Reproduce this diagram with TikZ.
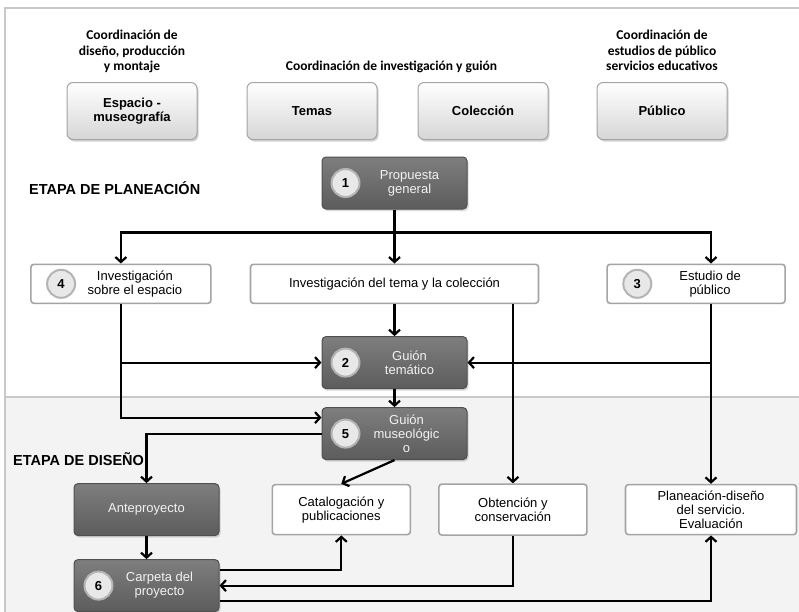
\documentclass[tikz,border=0pt]{standalone}
\usepackage{fontspec}
\setmainfont{Liberation Sans}
\newfontfamily\headfont{Carlito}
\usepackage{tikz}
\usetikzlibrary{positioning,arrows.meta,calc,shadows}
\definecolor{ink}     {HTML}{000000}
\definecolor{frame}   {HTML}{C8C8C8}
\definecolor{band}    {HTML}{F3F3F3}
\definecolor{rim}     {HTML}{A4A4A4}
\definecolor{lightbot}{HTML}{D6D6D6}
\definecolor{darktop} {HTML}{7E7E7E}
\definecolor{darkbot} {HTML}{5C5C5C}
\definecolor{darkrim} {HTML}{505050}
\definecolor{paper}   {HTML}{F2F2F2}
\definecolor{numfill} {HTML}{E8E8E8}
\definecolor{numrim}  {HTML}{B4B4B4}

\begin{document}
\begin{tikzpicture}[
  x=1pt, y=1pt,
  font=\fontsize{13}{14}\selectfont,
  tbox/.style={draw=rim, line width=1pt, rounded corners=6pt, top color=white, bottom color=lightbot,
               minimum width=130pt, minimum height=57pt, align=center,
               font=\fontsize{13}{14}\selectfont\bfseries,
               drop shadow={shadow xshift=1.5pt, shadow yshift=-2pt, opacity=.35}},
  dbox/.style={draw=darkrim, line width=1pt, rounded corners=4pt, top color=darktop, bottom color=darkbot,
               minimum width=145pt, minimum height=52pt, align=center, text=paper,
               drop shadow={shadow xshift=1.5pt, shadow yshift=-2pt, opacity=.3}},
  wbox/.style={draw=rim, line width=1.6pt, rounded corners=3pt, fill=white,
               minimum height=39pt, align=center},
  dtxt/.style={text=paper, align=center, inner sep=0pt},
  wtxt/.style={align=center, inner sep=0pt},
  num/.style={circle, draw=numrim, line width=2pt, fill=numfill, minimum size=28pt, inner sep=0pt,
              font=\fontsize{13}{14}\selectfont\bfseries},
  headlbl/.style={align=center, inner sep=1pt, font=\headfont\fontsize{13.5}{15.5}\selectfont\bfseries},
  stage/.style={anchor=west, inner sep=0pt, font=\fontsize{14.5}{16}\selectfont\bfseries},
  flow/.style={draw=ink, line width=2.2pt, -{Straight Barb[length=5pt,width=11pt]}}
]
\useasboundingbox (0,0) rectangle (799,-611);
% two stages
\fill[white] (5,-8) rectangle (810,-397);
\fill[band] (5,-397) rectangle (810,-620);
\draw[frame, line width=1.5pt] (5,-620) |- (810,-8);
\draw[frame, line width=2pt] (5,-397) -- (810,-397);

% coordinations
\node[tbox] (esp) at (132,-111) {Espacio -\\museografía};
\node[tbox, right=49pt of esp] (tem) {Temas};
\node[tbox, right=40pt of tem] (col) {Colección};
\node[tbox, right=48pt of col] (pub) {Público};
\coordinate (temcol) at ($(tem.north)!0.5!(col.north)+(-6,0)$);
\node[headlbl, above=8pt of esp] (hd1) {Coordinación de\\diseño, producción\\y montaje};
\node[headlbl, above=8pt of temcol] (hd2) {Coordinación de investigación y guión};
\node[headlbl, above=10pt of pub] (hd3) {Coordinación de\\estudios de público\\servicios educativos};

\node[stage] (plan) at (29,-188) {ETAPA DE PLANEACIÓN};
\node[stage] (dis) at (13,-459) {ETAPA DE DISEÑO};

% planning
\node[dbox] (pro) at (394.5,-183) {};
\node[num] (pro-n) at ([xshift=24pt]pro.west) {1};
\node[dtxt] (pro-t) at ([xshift=15pt]pro.center) {Propuesta\\general};

\node[wbox, minimum width=288pt, below=54pt of pro] (inv) {Investigación del tema y la colección};
\node[wbox, minimum width=180pt, left=38pt of inv] (ies) {};
\node[num] (ies-n) at ([xshift=31pt]ies.west) {4};
\node[wtxt] (ies-t) at ([xshift=14pt]ies.center) {Investigación\\sobre el espacio};
\node[wbox, minimum width=178pt, right=67pt of inv] (epu) {};
\node[num] (epu-n) at ([xshift=31pt]epu.west) {3};
\node[wtxt] (epu-t) at ([xshift=14pt]epu.center) {Estudio de\\público};

\node[dbox, below=32pt of inv] (gt) {};
\node[num] (gt-n) at ([xshift=24pt]gt.west) {2};
\node[dtxt] (gt-t) at ([xshift=15pt]gt.center) {Guión\\temático};
\node[dbox, below=18pt of gt] (gm) {};
\node[num] (gm-n) at ([xshift=24pt]gm.west) {5};
\node[dtxt] (gm-t) at ([xshift=12pt]gm.center) {Guión\\museológic\\o};

% design
\node[dbox, below left=23pt and 102pt of gm] (ante) {Anteproyecto};
\node[dbox, below=23pt of ante] (carp) {};
\node[num] (carp-n) at ([xshift=25pt]carp.west) {6};
\node[dtxt] (carp-t) at ([xshift=13pt]carp.center) {Carpeta del\\proyecto};
\node[wbox, minimum width=138pt, minimum height=50pt, right=52pt of ante] (cat) {Catalogación y\\publicaciones};
\node[wbox, minimum width=148pt, minimum height=51pt, right=27pt of cat] (obt) {Obtención y\\conservación};
\node[wbox, minimum width=171pt, minimum height=50pt, right=37pt of obt] (pla) {Planeación-diseño\\del servicio.\\Evaluación};

\coordinate[below=23pt of pro.south] (hub);
\draw[flow] (pro.south) -- (inv.north);
\draw[flow] (hub) -| (ies.north);
\draw[flow] (hub) -| (pla.north |- epu.north);
\draw[flow] (inv.south) -- (gt.north);
\draw[flow] (gt.south) -- (gm.north);
\draw[flow] (ies.south) |- (gt.west);
\draw[flow] (ies.south) |- ([yshift=16pt]gm.west);
\draw[flow] (epu.south -| pla.north) -- (pla.north);
\draw[flow] (gt.east -| pla.north) -- (gt.east);
\draw[flow] (inv.south -| obt.north) -- (obt.north);
\draw[flow] (gm.west) -| (ante.north);
\draw[flow] (gm.south) -- (cat.north);
\draw[flow] (ante.south) -- (carp.north);
\draw[flow] ([yshift=16pt]carp.east) -| (cat.south);
\draw[flow] (obt.south) |- (carp.east);
\draw[flow] ([yshift=-15pt]carp.east) -| (pla.south);
\end{tikzpicture}
\end{document}
